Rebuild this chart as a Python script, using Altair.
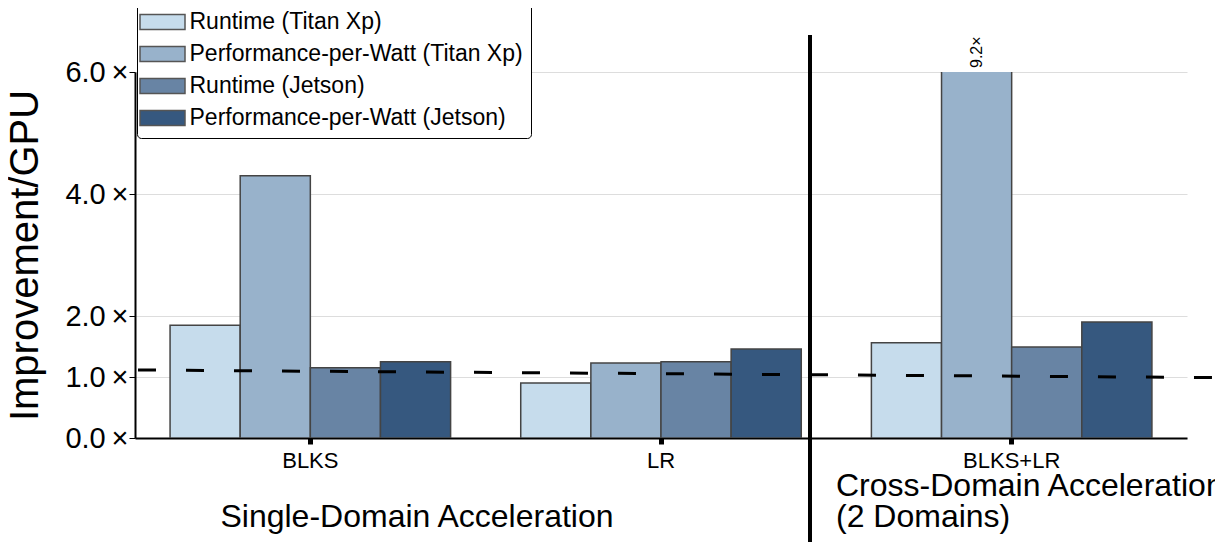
import altair as alt
import pandas as pd

categories = ["BLKS", "LR", "BLKS+LR"]
series = ["Runtime (Titan Xp)", "Performance-per-Watt (Titan Xp)",
          "Runtime (Jetson)", "Performance-per-Watt (Jetson)"]
colors = ["#c6dcec", "#98b2cb", "#6884a4", "#36587f"]
values = {
    "Runtime (Titan Xp)": [1.85, 0.90, 1.56],
    "Performance-per-Watt (Titan Xp)": [4.30, 1.23, 9.2],
    "Runtime (Jetson)": [1.15, 1.25, 1.49],
    "Performance-per-Watt (Jetson)": [1.25, 1.46, 1.90],
}
y_ticks = [0, 1, 2, 4, 6]
y_max = 6.0
baseline_left, baseline_right = 1.115, 0.99

rows = []
for s in series:
    for c, v in zip(categories, values[s]):
        rows.append({"cat": c, "series": s, "value": v,
                     "label": f"{v:.1f}×" if v > y_max else ""})
df = pd.DataFrame(rows)

FONT = "Liberation Sans"

x_enc = alt.X("cat:N", sort=categories, title=None,
              scale=alt.Scale(paddingInner=0.2, paddingOuter=0.1),
              axis=alt.Axis(labelAngle=0, labelFontSize=22, labelColor="black",
                            labelPadding=6, tickColor="black", tickWidth=5,
                            tickSize=6, domainColor="black", domainWidth=2,
                            labelFont=FONT))
y_scale = alt.Scale(domain=[0, y_max])

bars = alt.Chart(df).mark_bar(stroke="#444", strokeWidth=1.5, clip=True).encode(
    x=x_enc,
    xOffset=alt.XOffset("series:N", sort=series),
    y=alt.Y("value:Q", scale=y_scale, title="Improvement/GPU",
            axis=alt.Axis(values=y_ticks,
                          labelExpr="format(datum.value, '.1f') + '\u2009×'",
                          labelFontSize=29, labelColor="black", tickColor="black",
                          tickSize=6, domainColor="black", domainWidth=2,
                          titleFontSize=40, titleFontWeight="normal", titleColor="black",
                          titlePadding=19, labelFont=FONT,
                          titleFont=FONT, gridColor="#dddddd",
                          labelPadding=1)),
    color=alt.Color("series:N", sort=series,
                    scale=alt.Scale(domain=series, range=colors),
                    legend=alt.Legend(title=None, orient="none", legendX=2, legendY=-74,
                                      labelFontSize=23, labelFont=FONT,
                                      labelColor="black", labelLimit=500,
                                      symbolType="M-1.5,-0.5H1.5V0.5H-1.5Z",
                                      symbolSize=900, symbolStrokeColor="#555",
                                      symbolStrokeWidth=1.5, symbolOpacity=1,
                                      symbolOffset=1.5,
                                      rowPadding=4, padding=8, labelOffset=11,
                                      strokeColor="black", cornerRadius=4,
                                      fillColor="white")),
)

over = alt.Chart(df[df["label"] != ""]).mark_text(
    angle=270, align="left", baseline="middle", dx=4, fontSize=16,
    font=FONT, color="black").encode(
    x=alt.X("cat:N", sort=categories),
    xOffset=alt.XOffset("series:N", sort=series),
    y=alt.datum(y_max),
    text="label:N",
)

dash = alt.Chart(pd.DataFrame({"a": [0]})).mark_rule(
    color="black", strokeWidth=3, strokeDash=[18, 30], clip=False).encode(
    x=alt.value(3), x2=alt.value(1085),
    y=alt.datum(baseline_left), y2=alt.datum(baseline_right),
)

sep = alt.Chart(pd.DataFrame({"a": [0]})).mark_rule(
    color="black", strokeWidth=4, clip=False).encode(
    x=alt.value(675), y=alt.value(-37), y2=alt.value(500),
)

texts = pd.DataFrame({
    "t": ["Single-Domain Acceleration", "Cross-Domain Acceleration", "(2 Domains)"],
})
t1 = alt.Chart(texts.iloc[[0]]).mark_text(
    fontSize=32, font=FONT, color="black", align="center",
    baseline="alphabetic").encode(x=alt.value(282), y=alt.value(455), text="t:N")
t2 = alt.Chart(texts.iloc[[1]]).mark_text(
    fontSize=32, font=FONT, color="black", align="left",
    baseline="alphabetic").encode(x=alt.value(701), y=alt.value(424), text="t:N")
t3 = alt.Chart(texts.iloc[[2]]).mark_text(
    fontSize=32, font=FONT, color="black", align="left",
    baseline="alphabetic").encode(x=alt.value(701), y=alt.value(455), text="t:N")

chart = alt.layer(bars, over, dash, sep, t1, t2, t3).properties(
    width=1052, height=366,
    autosize=alt.AutoSizeParams(type="none"),
    padding={"left": 127, "top": 64, "right": 28, "bottom": 104},
).configure_view(stroke=None).configure_axisX(grid=False).configure_axisY(grid=True)

chart.save("out.html", embed_options={"renderer": "svg", "actions": False})
